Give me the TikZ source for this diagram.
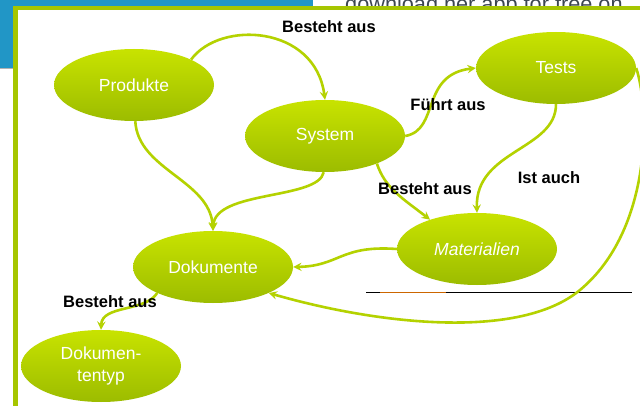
\documentclass[tikz,border=0pt]{standalone}
\usepackage{fontspec}
\setmainfont{Liberation Sans}
\usetikzlibrary{shapes.geometric}

\definecolor{blau}{HTML}{2196C6}
\definecolor{rahmen}{HTML}{A6C600}
\definecolor{hell}{HTML}{C8E300}
\definecolor{dunkel}{HTML}{9CBC00}
\definecolor{linie}{HTML}{B4D200}
\definecolor{textgrau}{HTML}{3C4650}

\tikzset{
  begriff/.style={ellipse,minimum width=160,minimum height=72,inner sep=0pt,
    top color=hell,bottom color=dunkel,text=white,align=center,
    font=\fontsize{17.5}{22}\selectfont},
  bez/.style={draw=linie,line width=2.6,->,>=stealth},
  rel/.style={text=black,inner sep=0pt,font=\bfseries\fontsize{16.5}{18}\selectfont},
}

\begin{document}
\begin{tikzpicture}[x=1pt,y=-1pt]
\useasboundingbox (0,0) rectangle (640,406);
\clip (0,0) rectangle (640,406);
% hintergrund
\fill[blau] (0,0) rectangle (313,68);
\draw[gray!60] (0,68)--(14,68);
\node[anchor=base west,inner sep=0pt,text=textgrau,font=\fontsize{21.7}{24}\selectfont] (werbung) at (345,12) {download her app for free on};
\draw[rahmen,line width=4.5,fill=white] (15.5,8) rectangle (700,480);
\draw[black,line width=0.8] (366,292.5)--(632,292.5);
\draw[orange!80!black,line width=0.8] (380,292.5)--(446,292.5);
% begriffe
\node[begriff] (prod) at (134,85) {Produkte};
\node[begriff] (sys) at (325,136) {System};
\node[begriff] (tests) at (556,68) {Tests};
\node[begriff] (doku) at (213,267) {Dokumente};
\node[begriff,font=\itshape\fontsize{17.5}{22}\selectfont] (mat) at (477,249) {Materialien};
\node[begriff] (typ) at (101,366) {Dokumen-\\tentyp};
% beziehungen
\draw[bez] (prod.24) .. controls (220,20) and (315,25) .. (sys.north);
\draw[bez] (prod.-88) .. controls (138,170) and (210,180) .. (doku.north);
\draw[bez] (sys.-92) .. controls (318,200) and (215,190) .. (doku.north);
\draw[bez] (sys.east) .. controls (440,130) and (420,75) .. (tests.west);
\draw[bez] (sys.-28) .. controls (385,188) and (402,198) .. (mat.148);
\draw[bez] (tests.south) .. controls (556,150) and (475,150) .. (mat.north);
\draw[bez] (mat.west) .. controls (340,245) and (340,266) .. (doku.east);
\draw[bez] (tests.east) .. controls (650,110) and (652,230) .. (580,290)
  .. controls (520,340) and (380,325) .. (doku.-25);
\draw[bez] (doku.-155) .. controls (145,312) and (102,305) .. (typ.north);
% beschriftungen
\node[rel] (l1) at (329,27) {Besteht aus};
\node[rel] (l2) at (448,105) {Führt aus};
\node[rel] (l3) at (425,189) {Besteht aus};
\node[rel] (l4) at (549,178) {Ist auch};
\node[rel] (l5) at (110,302) {Besteht aus};
\end{tikzpicture}
\end{document}
